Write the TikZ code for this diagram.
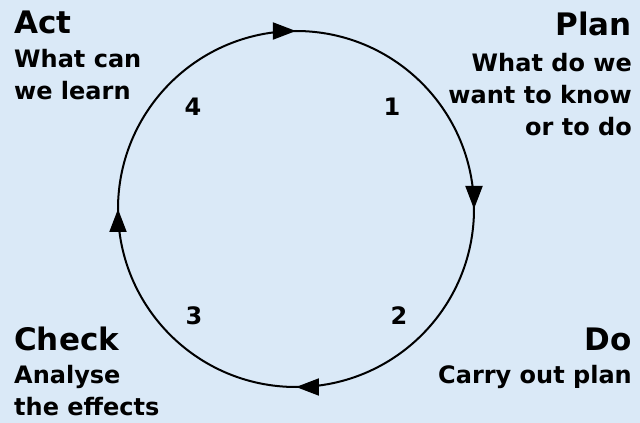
\documentclass[tikz,border=0pt]{standalone}
\usepackage{fontspec}
\setmainfont{DejaVu Sans}
\usetikzlibrary{arrows.meta,decorations.markings}
\definecolor{paper}{RGB}{218,233,247}

\begin{document}
\begin{tikzpicture}[
  x=1pt, y=1pt,
  head/.style={font=\bfseries\fontsize{31}{34}\selectfont, inner sep=0pt},
  body/.style={font=\bfseries\fontsize{24}{32}\selectfont, inner sep=0pt},
  num/.style={font=\bfseries\fontsize{24}{28}\selectfont, inner sep=0pt},
  tip/.style={-{Triangle[length=23pt, width=17pt]}},
  cyc/.style={line width=2pt, postaction=decorate, decoration={markings,
    mark=at position 0.25 with {\arrow{Triangle[length=23pt, width=17pt]}},
    mark=at position 0.5 with {\arrow{Triangle[length=23pt, width=17pt]}},
    mark=at position 0.75 with {\arrow{Triangle[length=23pt, width=17pt]}},
    mark=at position 0.9999 with {\arrow{Triangle[length=23pt, width=17pt]}}}},
]

\def\r{178}

\fill[paper] (-296,-214) rectangle (344,209);
\useasboundingbox (-296,-214) rectangle (344,209);

\coordinate (top) at (90:\r);

\draw[cyc] (top) arc[start angle=90, end angle=-270, radius=\r];

\node[num] (one)   at (96,102)   {1};
\node[num] (two)   at (103,-107) {2};
\node[num] (three) at (-102,-107) {3};
\node[num] (four)  at (-103,102) {4};

\node[head, anchor=base west] (act)   at (-282,175) {Act};
\node[body, anchor=base west, align=left] (actB) at (-282,109)
  {What can\\we learn};
\node[head, anchor=base east] (plan)  at (336,173) {Plan};
\node[body, anchor=base east, align=right] (planB) at (336,73)
  {What do we\\want to know\\or to do};
\node[head, anchor=base west] (check) at (-282,-141) {Check};
\node[body, anchor=base west, align=left] (checkB) at (-282,-206)
  {Analyse\\the effects};
\node[head, anchor=base east] (do)    at (336,-141) {Do};
\node[body, anchor=base east] (doB)   at (336,-174) {Carry out plan};

\end{tikzpicture}
\end{document}
